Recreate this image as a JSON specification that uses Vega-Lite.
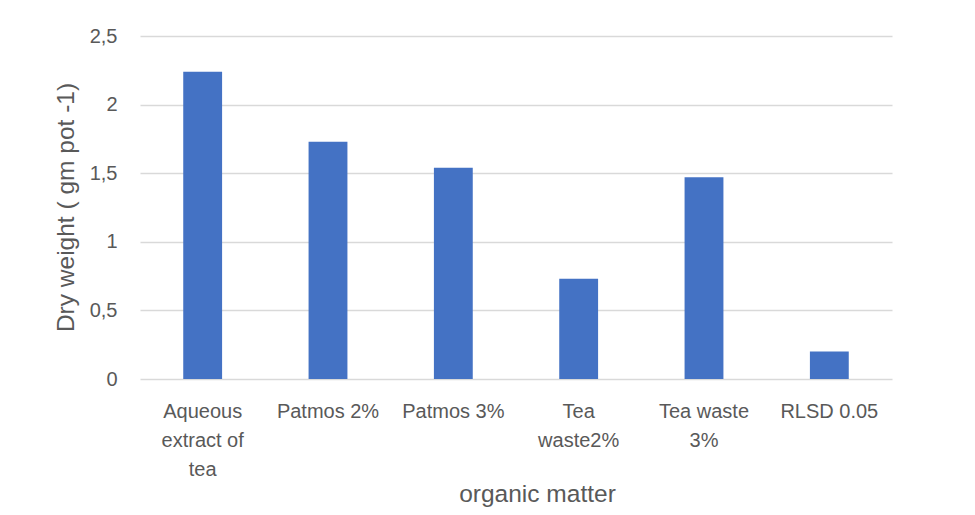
{
  "$schema": "https://vega.github.io/schema/vega-lite/v6.json",
  "width": 752,
  "height": 343,
  "autosize": "none",
  "padding": {"left": 140, "top": 36, "right": 83, "bottom": 136},
  "background": "#ffffff",
  "data": {
    "values": [
      {"treatment": "Aqueous extract of tea", "dry_weight": 2.24},
      {"treatment": "Patmos 2%", "dry_weight": 1.73},
      {"treatment": "Patmos 3%", "dry_weight": 1.54},
      {"treatment": "Tea waste2%", "dry_weight": 0.73},
      {"treatment": "Tea waste 3%", "dry_weight": 1.47},
      {"treatment": "RLSD 0.05", "dry_weight": 0.2}
    ]
  },
  "mark": {"type": "bar", "color": "#4472C4"},
  "encoding": {
    "x": {
      "field": "treatment",
      "type": "nominal",
      "sort": null,
      "scale": {"paddingInner": 0.69, "paddingOuter": 0.345},
      "axis": {
        "title": "organic matter",
        "labelAngle": 0,
        "labelExpr": "datum.label == 'Aqueous extract of tea' ? ['Aqueous', 'extract of', 'tea'] : datum.label == 'Tea waste2%' ? ['Tea', 'waste2%'] : datum.label == 'Tea waste 3%' ? ['Tea waste', '3%'] : datum.label",
        "labelLineHeight": 29,
        "labelPadding": 22,
        "labelBaseline": "top",
        "labelLimit": 0,
        "ticks": false,
        "domain": false,
        "titleX": 397,
        "titleY": 122,
        "titleBaseline": "alphabetic",
        "titleAnchor": "middle",
        "titleAlign": "center"
      }
    },
    "y": {
      "field": "dry_weight",
      "type": "quantitative",
      "scale": {"domain": [0, 2.5], "nice": false},
      "axis": {
        "title": "Dry weight ( gm pot -1)",
        "values": [0, 0.5, 1, 1.5, 2, 2.5],
        "labelExpr": "replace(toString(datum.value), '.', ',')",
        "labelPadding": 23,
        "ticks": false,
        "domain": false,
        "grid": true,
        "titleX": -67,
        "titleY": 171,
        "titleAngle": -90,
        "titleBaseline": "alphabetic",
        "titleAlign": "center"
      }
    }
  },
  "config": {
    "view": {"stroke": null},
    "axis": {
      "labelFont": "Liberation Sans",
      "labelFontSize": 20,
      "labelColor": "#595959",
      "titleFont": "Liberation Sans",
      "titleFontSize": 24.5,
      "titleFontWeight": "normal",
      "titleColor": "#595959",
      "gridColor": "#d9d9d9",
      "gridWidth": 1.5
    }
  }
}
